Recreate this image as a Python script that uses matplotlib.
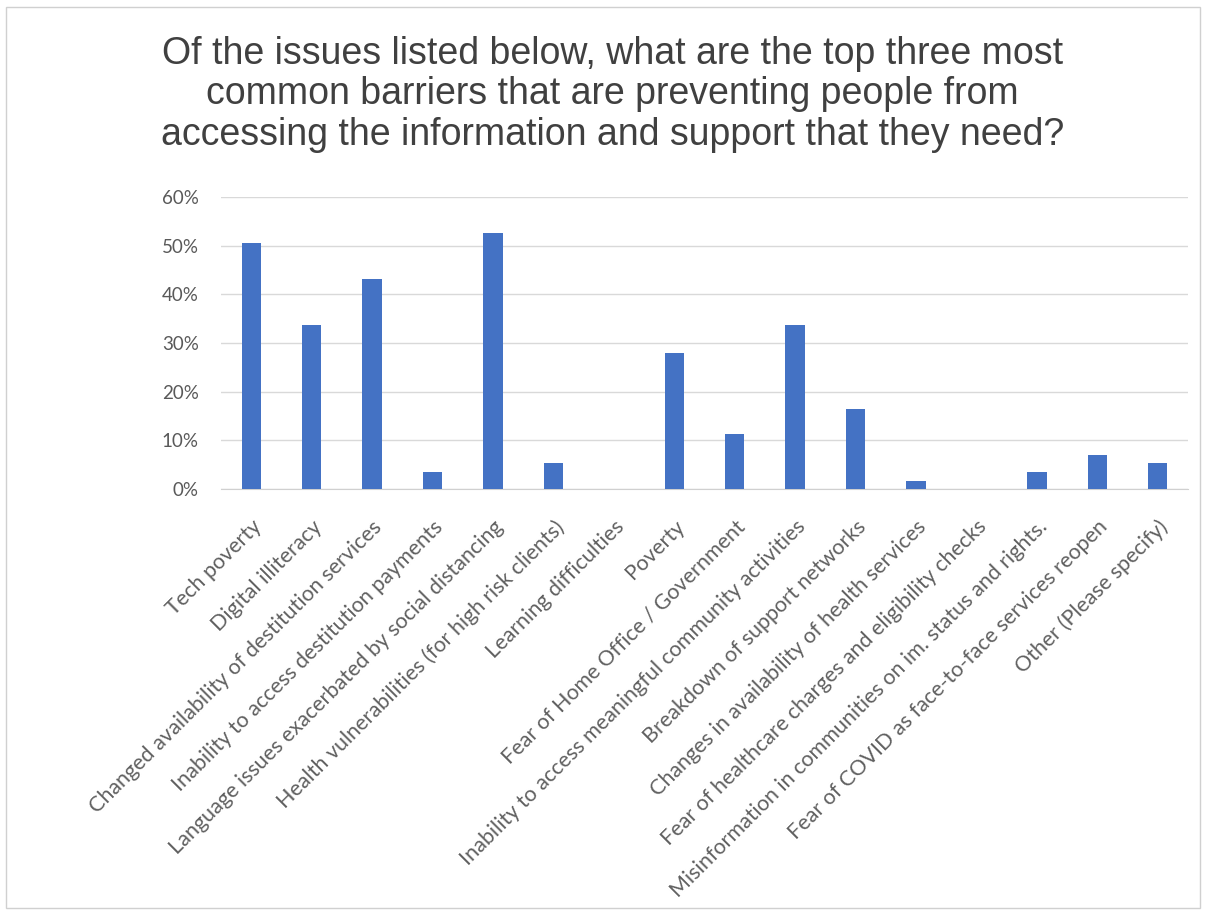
import matplotlib
matplotlib.use("Agg")
import matplotlib.pyplot as plt
from matplotlib.patches import Rectangle
from matplotlib.ticker import PercentFormatter

categories = [
    "Tech poverty",
    "Digital illiteracy",
    "Changed availability of destitution services",
    "Inability to access destitution payments",
    "Language issues exacerbated by social distancing",
    "Health vulnerabilities (for high risk clients)",
    "Learning difficulties",
    "Poverty",
    "Fear of Home Office / Government",
    "Inability to access meaningful community activities",
    "Breakdown of support networks",
    "Changes in availability of health services",
    "Fear of healthcare charges and eligibility checks",
    "Misinformation in communities on im. status and rights.",
    "Fear of COVID as face-to-face services reopen",
    "Other (Please specify)",
]
shares = [50.5, 33.7, 43.2, 3.4, 52.6, 5.3, 0.0, 27.9, 11.2, 33.7, 16.5, 1.7, 0.0, 3.4, 7.0, 5.3]
yticks = [0, 10, 20, 30, 40, 50, 60]

TITLE = ("Of the issues listed below, what are the top three most\n"
         "common barriers that are preventing people from\n"
         "accessing the information and support that they need?")

GREY_TXT = "#595959"
BAR = "#4472C4"

fig = plt.figure(figsize=(12.1, 9.13), dpi=100)
fig.patches.append(Rectangle((6 / 1210, 1 - 908 / 913), 1194 / 1210, 901 / 913,
                             transform=fig.transFigure, fill=False,
                             edgecolor="#d0d0d0", linewidth=1.0))

# plot area: gridlines from x=221 to 1188, 60% at y=197, 0% at y=489
ax = fig.add_axes([221 / 1210, 1 - 489 / 913, 967 / 1210, 292 / 913])
x = range(len(categories))
ax.bar(x, shares, width=0.32, color=BAR, zorder=3)
ax.set_xlim(-0.5, len(categories) - 0.5)
ax.set_ylim(0, 60)
ax.set_yticks(yticks)
ax.yaxis.set_major_formatter(PercentFormatter(decimals=0))
ax.grid(axis="y", color="#d9d9d9", linewidth=1.0, zorder=0)
for s in ["top", "left", "right"]:
    ax.spines[s].set_visible(False)
ax.spines["bottom"].set_color("#d0d0d0")
ax.tick_params(length=0)
ax.tick_params(axis="y", labelsize=13.5, labelcolor=GREY_TXT, pad=16)
for lab in ax.get_yticklabels():
    lab.set_family("Lato")
ax.set_xticks(list(x))
ax.set_xticklabels(categories, rotation=45, ha="right", rotation_mode="anchor",
                   fontsize=15.5, color="#606060", family="Lato")
ax.tick_params(axis="x", pad=20)

fig.text(0.506, 1 - 36 / 913, TITLE, ha="center", va="top", fontsize=27,
         color="#404040", family="Liberation Sans", linespacing=1.16)

fig.savefig("out.png", dpi=100)
